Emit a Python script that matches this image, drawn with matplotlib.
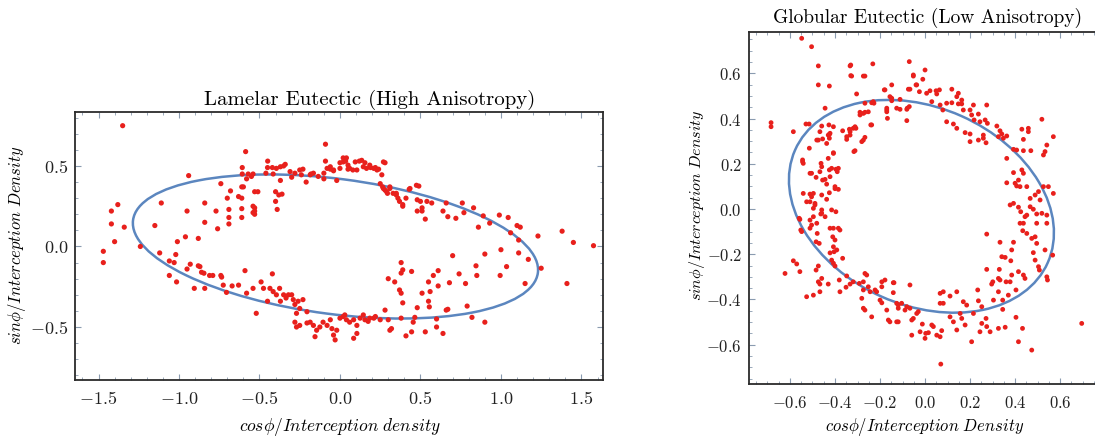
import numpy as np
import matplotlib
matplotlib.use("Agg")
import matplotlib.pyplot as plt
from matplotlib.patches import Ellipse
from matplotlib.ticker import MultipleLocator, FixedLocator, FixedFormatter

plt.rcParams['mathtext.fontset'] = 'cm'

# ---------------- data: Lamelar eutectic ----------------
lam_points = [
    (-1.35, 0.75), (-0.586, 0.589), (-0.607, 0.49), (-0.607, 0.45), (-0.449, 0.53), (-0.45, 0.49),
    (-0.42, 0.49), (-0.37, 0.495), (-0.35, 0.50), (-0.34, 0.51), (-0.94, 0.44), (-0.74, 0.39),
    (-0.68, 0.345), (-0.70, 0.30), (-0.61, 0.37), (-0.61, 0.30), (-0.57, 0.45), (-0.54, 0.45),
    (-0.51, 0.34), (-0.40, 0.34), (-0.38, 0.32), (-0.40, 0.28), (-0.39, 0.23), (-0.53, 0.24),
    (-0.53, 0.22), (-0.53, 0.20), (-0.61, 0.18), (-0.69, 0.23), (-0.69, 0.18), (-0.69, 0.14),
    (-0.84, 0.27), (-0.84, 0.15), (-0.77, 0.22), (-0.95, 0.22), (-0.76, 0.11), (-1.11, 0.27),
    (-1.15, 0.13), (-0.96, 0.06), (-0.88, 0.05), (-1.01, 0.03), (-1.38, 0.26), (-1.42, 0.22),
    (-1.42, 0.14), (-1.34, 0.12), (-1.40, 0.03), (-1.47, -0.03), (-1.47, -0.10), (-1.24, 0.0),
    (-1.12, -0.04), (-1.02, -0.05), (-1.06, -0.09), (-1.03, -0.10), (-0.93, -0.11), (-0.88, -0.12),
    (-0.95, -0.14), (-0.86, -0.16), (-0.81, -0.18), (-0.74, -0.18), (-0.59, -0.15), (-0.42, -0.17),
    (-1.06, -0.18),
    (-0.58, 0.42), (-0.55, 0.435), (-0.60, 0.37), (-0.63, 0.31), (-0.53, 0.34), (-0.61, 0.235),
    (-0.54, 0.25), (-0.54, 0.21), (-0.46, 0.455), (-0.415, 0.45), (-0.395, 0.485), (-0.37, 0.41),
    (-0.36, 0.325), (-0.31, 0.465), (-0.30, 0.43), (-0.28, 0.455), (-0.25, 0.475), (-0.24, 0.445),
    (-0.21, 0.40), (-0.185, 0.445), (-0.165, 0.455), (-0.135, 0.435), (-0.09, 0.635), (-0.09, 0.53),
    (-0.08, 0.485), (-0.06, 0.495), (-0.04, 0.47), (-0.02, 0.41), (0.0, 0.485), (0.02, 0.525),
    (0.04, 0.55), (0.05, 0.505), (0.06, 0.485), (0.095, 0.525), (0.105, 0.475), (0.135, 0.535),
    (0.145, 0.495), (0.165, 0.485), (0.185, 0.505), (0.21, 0.485), (0.23, 0.475), (0.27, 0.525),
    (0.26, 0.445), (0.25, 0.39), (0.27, 0.36), (0.29, 0.34), (0.31, 0.37), (0.33, 0.33),
    (0.35, 0.32), (0.37, 0.28), (0.39, 0.25), (0.41, 0.30), (0.435, 0.36), (0.475, 0.38),
    (0.50, 0.28), (0.51, 0.24), (0.54, 0.28),
    (0.02, 0.55), (0.035, 0.53), (0.0, 0.52), (0.12, 0.53), (0.155, 0.52), (0.19, 0.49),
    (0.22, 0.49), (0.28, 0.52), (-0.23, 0.48), (-0.18, 0.45), (-0.10, 0.455), (-0.06, 0.48),
    (-0.04, 0.475), (0.05, 0.48), (0.08, 0.475), (0.24, 0.48), (-0.10, 0.42),
    (0.265, 0.37), (0.28, 0.35), (0.295, 0.33), (0.31, 0.36), (0.35, 0.33), (0.36, 0.30),
    (0.39, 0.26), (0.43, 0.355), (0.49, 0.375), (0.48, 0.29), (0.48, 0.22), (0.51, 0.22),
    (0.53, 0.17), (0.57, 0.27), (0.64, 0.22), (0.66, 0.27), (0.67, 0.185), (0.72, 0.175),
    (0.76, 0.27), (0.77, 0.21), (0.83, 0.24), (0.86, 0.12), (0.89, 0.19), (0.93, 0.145),
    (0.99, 0.195), (1.045, 0.18), (1.06, 0.085), (1.10, 0.13), (1.12, 0.12), (1.11, 0.04),
    (1.17, -0.08), (1.23, 0.065), (1.25, -0.135), (1.38, 0.095), (1.45, 0.025), (1.575, 0.005),
    (0.70, -0.057), (0.90, -0.047), (1.0, -0.02), (1.11, -0.04), (0.845, -0.12), (0.995, -0.18),
    (0.38, -0.10), (0.39, -0.145), (0.445, -0.155), (0.38, -0.165), (0.61, -0.15), (0.58, -0.18),
    (0.30, -0.20), (0.34, -0.22), (0.37, -0.27), (0.38, -0.29), (0.39, -0.35), (0.48, -0.38),
    (0.51, -0.29), (0.55, -0.22), (0.56, -0.28), (0.61, -0.245), (0.55, -0.34), (0.555, -0.375),
    (0.68, -0.225), (0.74, -0.17), (0.78, -0.23), (0.85, -0.18), (0.79, -0.37), (0.67, -0.39),
    (0.82, -0.44), (0.90, -0.47), (1.035, -0.125), (1.15, -0.23), (1.41, -0.23), (0.60, -0.45),
    (0.60, -0.50), (0.64, -0.54), (0.53, -0.53), (0.445, -0.53), (0.455, -0.47), (0.41, -0.555),
    (0.31, -0.52), (0.38, -0.445), (0.465, -0.44), (0.66, -0.395),
    (-1.015, -0.22), (-0.905, -0.26), (-0.84, -0.26), (-0.79, -0.18), (-0.705, -0.285),
    (-0.67, -0.245), (-0.63, -0.24), (-0.58, -0.29), (-0.54, -0.26), (-0.52, -0.415), (-0.45, -0.34),
    (-0.87, -0.125), (-0.845, -0.166), (-0.735, -0.19), (-0.725, -0.24), (-0.49, -0.22),
    (-0.475, -0.26), (-0.435, -0.26), (-0.415, -0.28), (-0.395, -0.30), (-0.375, -0.26),
    (-0.37, -0.34), (-0.35, -0.30), (-0.335, -0.32), (-0.32, -0.30), (-0.30, -0.30), (-0.29, -0.33),
    (-0.28, -0.36), (-0.27, -0.415), (-0.26, -0.34), (-0.25, -0.385), (-0.23, -0.33), (-0.205, -0.405),
    (-0.28, -0.47), (-0.27, -0.50), (-0.25, -0.49), (-0.205, -0.475), (-0.185, -0.47), (-0.165, -0.49),
    (-0.145, -0.52), (-0.125, -0.50), (-0.105, -0.47), (-0.08, -0.49), (-0.06, -0.455), (-0.05, -0.51),
    (-0.02, -0.52), (-0.04, -0.55), (0.0, -0.445), (0.02, -0.435), (0.04, -0.455), (0.06, -0.47),
    (0.085, -0.455), (0.105, -0.49), (0.125, -0.445), (0.155, -0.455), (0.175, -0.465), (0.21, -0.445),
    (0.25, -0.455), (0.28, -0.395), (0.30, -0.455), (0.32, -0.51), (-0.155, -0.56), (-0.03, -0.58),
    (0.085, -0.57), (0.105, -0.54), (0.03, -0.425), (0.145, -0.425), (0.22, -0.435), (0.185, -0.445),
]
lam_x = [p[0] for p in lam_points]
lam_y = [p[1] for p in lam_points]

# fitted ellipse (center x, center y, semi-major, semi-minor, angle deg)
lam_ellipse = (-0.028, 0.0, 1.268, 0.420, -7.4)

# ---------------- data: Globular eutectic ----------------
glob_points = [
    (-0.548, 0.755), (-0.504, 0.718), (-0.474, 0.633), (-0.684, 0.382), (-0.684, 0.364), (-0.585, 0.342),
    (-0.529, 0.376), (-0.515, 0.376), (-0.474, 0.549), (-0.425, 0.544), (-0.444, 0.446), (-0.514, 0.269),
    (-0.544, 0.209), (-0.541, 0.202), (-0.511, 0.158), (-0.481, 0.305), (-0.467, 0.342), (-0.459, 0.367),
    (-0.467, 0.165), (-0.462, 0.202), (-0.444, 0.131), (-0.43, 0.224), (-0.425, 0.173), (-0.407, 0.246),
    (-0.407, 0.364), (-0.425, 0.33), (-0.396, 0.176), (-0.385, 0.087), (-0.40, 0.09), (-0.415, 0.18),
    (-0.415, -0.004), (-0.541, 0.069), (-0.526, 0.032), (-0.511, 0.066), (-0.489, 0.025), (-0.459, -0.004),
    (-0.444, -0.034), (-0.496, -0.034), (-0.33, 0.637), (-0.326, 0.588), (-0.274, 0.588), (-0.232, 0.642),
    (-0.304, 0.509), (-0.289, 0.416), (-0.333, 0.342), (-0.319, 0.357), (-0.348, 0.32), (-0.311, 0.364),
    (-0.274, 0.305), (-0.274, 0.423), (-0.252, 0.43), (-0.241, 0.372), (-0.316, 0.254), (-0.23, 0.475),
    (-0.181, 0.527), (-0.148, 0.549), (-0.17, 0.438), (-0.167, 0.401), (-0.148, 0.49), (-0.126, 0.446),
    (-0.544, 0.217), (-0.459, 0.187), (-0.504, 0.158), (-0.484, 0.14), (-0.385, 0.18), (-0.39, 0.165),
    (-0.422, 0.143), (-0.455, 0.128), (-0.437, 0.11), (-0.40, 0.099), (-0.425, 0.072), (-0.459, 0.062),
    (-0.496, 0.069), (-0.504, 0.054), (-0.511, 0.032), (-0.489, 0.018), (-0.496, 0.003), (-0.463, -0.022),
    (-0.437, 0.043), (-0.396, -0.012), (-0.511, -0.049), (-0.556, -0.046), (-0.481, -0.063), (-0.422, -0.085),
    (-0.385, -0.085), (-0.427, 0.372), (-0.422, 0.335), (-0.43, 0.327), (-0.425, 0.313), (-0.474, 0.305),
    (-0.455, 0.31), (-0.437, 0.29), (-0.407, 0.249), (-0.366, 0.346), (-0.336, 0.353), (-0.307, 0.357),
    (-0.333, 0.327), (-0.348, 0.308), (-0.267, 0.317), (-0.281, 0.298), (-0.311, 0.258), (-0.237, 0.372),
    (-0.289, 0.428), (-0.267, 0.428), (-0.267, 0.468), (-0.237, 0.47), (-0.227, 0.468), (-0.178, 0.527),
    (-0.156, 0.497), (-0.148, 0.479), (-0.17, 0.446), (-0.17, 0.43), (-0.111, 0.441), (-0.081, 0.441),
    (-0.07, 0.453), (-0.081, 0.391), (-0.111, 0.485), (-0.067, 0.53), (-0.037, 0.549), (-0.052, 0.593),
    (-0.07, 0.652), (-0.333, 0.633), (-0.33, 0.59), (-0.267, 0.588), (-0.548, -0.1), (-0.511, -0.085),
    (0.0, 0.615), (-0.052, 0.588), (-0.01, 0.574), (-0.04, 0.549), (-0.074, 0.53), (-0.025, 0.519),
    (0.007, 0.512), (0.022, 0.523), (0.049, 0.523), (0.064, 0.527), (0.052, 0.509), (0.119, 0.53),
    (0.148, 0.512), (0.141, 0.497), (0.163, 0.482), (-0.079, 0.446), (0.03, 0.475), (0.067, 0.46),
    (0.079, 0.438), (0.096, 0.468), (0.119, 0.47), (0.148, 0.465), (0.163, 0.465), (0.17, 0.438),
    (0.2, 0.438), (0.207, 0.416), (0.215, 0.46), (0.237, 0.42), (0.218, 0.394), (0.244, 0.386),
    (0.274, 0.46), (0.267, 0.394), (0.277, 0.379), (0.096, 0.386), (0.126, 0.376), (0.141, 0.357),
    (0.178, 0.338), (0.2, 0.332), (0.2, 0.298), (0.237, 0.305), (0.259, 0.313), (0.271, 0.293),
    (0.259, 0.327), (0.319, 0.367), (0.333, 0.346), (0.341, 0.332), (0.326, 0.32), (0.348, 0.313),
    (0.363, 0.323), (0.43, 0.353), (0.459, 0.357), (0.459, 0.342), (0.519, 0.397), (0.57, 0.32),
    (0.437, 0.308), (0.541, 0.283), (0.533, 0.254), (0.526, 0.239), (0.363, 0.224), (0.393, 0.264),
    (0.407, 0.261), (0.437, 0.258), (0.47, 0.258), (0.43, 0.173), (0.437, 0.158), (0.393, 0.161),
    (0.415, 0.128), (0.4, 0.114), (0.407, 0.102), (0.422, 0.099), (0.363, 0.116), (0.452, 0.099),
    (0.467, 0.047), (0.489, 0.062), (0.504, 0.077), (0.511, 0.04), (0.526, 0.099), (0.548, 0.099),
    (0.378, 0.018), (0.393, 0.025), (0.415, 0.008), (0.467, 0.01), (0.481, -0.001), (0.452, -0.027),
    (0.444, -0.034), (0.422, -0.063), (0.496, -0.063), (0.541, -0.063), (0.519, -0.019), (0.541, -0.027),
    (0.57, 0.069),
    (-0.559, -0.041), (-0.552, -0.093), (-0.504, -0.071), (-0.479, -0.108), (-0.484, -0.145), (-0.47, -0.152),
    (-0.459, -0.019), (-0.407, -0.085), (-0.41, -0.123), (-0.4, -0.137), (-0.378, -0.093), (-0.407, -0.167),
    (-0.404, -0.189), (-0.415, -0.226), (-0.407, -0.24), (-0.4, -0.252), (-0.366, -0.218), (-0.422, -0.194),
    (-0.585, -0.229), (-0.57, -0.243), (-0.556, -0.277), (-0.622, -0.285), (-0.526, -0.388), (-0.496, -0.381),
    (-0.484, -0.27), (-0.474, -0.252), (-0.474, -0.322), (-0.467, -0.332), (-0.459, -0.307), (-0.467, -0.366),
    (-0.43, -0.332), (-0.378, -0.366), (-0.381, -0.314), (-0.348, -0.296), (-0.351, -0.346), (-0.333, -0.332),
    (-0.319, -0.322), (-0.292, -0.329), (-0.274, -0.322), (-0.267, -0.285), (-0.259, -0.292), (-0.252, -0.344),
    (-0.244, -0.366), (-0.274, -0.358), (-0.281, -0.395), (-0.274, -0.439), (-0.267, -0.447), (-0.237, -0.477),
    (-0.215, -0.366), (-0.192, -0.322), (-0.192, -0.344), (-0.178, -0.314), (-0.141, -0.326), (-0.192, -0.415),
    (-0.17, -0.447), (-0.163, -0.491), (-0.156, -0.499), (-0.141, -0.37), (-0.126, -0.417), (-0.119, -0.439),
    (-0.119, -0.499), (-0.2, -0.403), (-0.222, -0.358), (-0.392, -0.181),
    (0.274, -0.111), (0.333, -0.147), (0.393, -0.147), (0.385, -0.181), (0.341, -0.211), (0.356, -0.214),
    (0.381, -0.229), (0.274, -0.267), (0.33, -0.267), (0.301, -0.322), (0.296, -0.332), (0.326, -0.307),
    (0.333, -0.314), (0.36, -0.322), (0.378, -0.322), (0.385, -0.292), (0.404, -0.358), (0.326, -0.366),
    (0.37, -0.381), (0.437, -0.292), (0.444, -0.307), (0.415, -0.277), (0.425, -0.012), (0.496, -0.022),
    (0.437, -0.063), (0.434, -0.096), (0.452, -0.108), (0.474, -0.13), (0.489, -0.123), (0.496, -0.152),
    (0.481, -0.193), (0.489, -0.226), (0.504, -0.255), (0.508, -0.27), (0.533, -0.181), (0.567, -0.204),
    (0.541, -0.3), (0.544, -0.314), (0.234, -0.358), (0.237, -0.406), (0.252, -0.432), (0.17, -0.41),
    (0.207, -0.587), (0.244, -0.543), (0.252, -0.506), (0.271, -0.484), (0.274, -0.52), (0.289, -0.543),
    (0.326, -0.528), (0.356, -0.523), (0.404, -0.479), (0.433, -0.528), (0.415, -0.587), (0.474, -0.624),
    (0.345, -0.444), (0.304, -0.403), (0.345, -0.403), (-0.138, -0.326), (-0.067, -0.336), (-0.119, -0.425),
    (-0.104, -0.417), (-0.081, -0.432), (-0.067, -0.439), (-0.037, -0.462), (-0.052, -0.484), (-0.03, -0.454),
    (-0.059, -0.558), (-0.012, -0.509), (-0.022, -0.543), (0.003, -0.55), (0.0, -0.572), (0.015, -0.547),
    (0.03, -0.513), (0.037, -0.52), (0.052, -0.558), (0.067, -0.565), (0.074, -0.538), (0.067, -0.373),
    (0.081, -0.366), (0.067, -0.417), (0.081, -0.417), (0.111, -0.385), (0.141, -0.366), (0.111, -0.477),
    (0.126, -0.499), (0.156, -0.462), (0.163, -0.484), (0.141, -0.535), (0.178, -0.513), (0.185, -0.425),
    (0.215, -0.462), (0.07, -0.686), (0.696, -0.506), (-0.126, -0.499), (-0.089, -0.447), (-0.059, -0.491),
]
glob_x = [p[0] for p in glob_points]
glob_y = [p[1] for p in glob_points]

glob_ellipse = (-0.016, 0.012, 0.614, 0.437, -23.9)

# ---------------- styling ----------------
RED = '#e8201c'
BLUE = '#5b86bf'
FRAME = '#2b2b2b'
TICK = '#8a9bb0'

fig = plt.figure(figsize=(10.95, 4.37), dpi=100)


def style_axes(ax, xmaj, xmin, ymaj, ymin, xlabels, ylabels, fs, ypad):
    for s in ax.spines.values():
        s.set_color(FRAME)
        s.set_linewidth(1.3)
    ax.xaxis.set_major_locator(FixedLocator(xmaj))
    ax.yaxis.set_major_locator(FixedLocator(ymaj))
    ax.xaxis.set_major_formatter(FixedFormatter(xlabels))
    ax.yaxis.set_major_formatter(FixedFormatter(ylabels))
    ax.xaxis.set_minor_locator(MultipleLocator(xmin))
    ax.yaxis.set_minor_locator(MultipleLocator(ymin))
    ax.tick_params(which='both', direction='in', top=True, right=True, color=TICK,
                   labelsize=fs, labelcolor='#222222')
    ax.tick_params(which='major', length=4, width=0.8)
    ax.tick_params(axis='x', which='major', pad=7)
    ax.tick_params(axis='y', which='major', pad=ypad)
    ax.tick_params(which='minor', length=2, width=0.6)


def fmt(v, nd):
    return '$' + f"{v:.{nd}f}" + '$'


# Left panel
ax1 = fig.add_axes([75 / 1095, 1 - 380 / 437, 528 / 1095, 268 / 437])
ax1.set_xlim(-1.646, 1.634)
ax1.set_ylim(-0.829, 0.835)
cx, cy, a, b, ang = lam_ellipse
ax1.add_patch(Ellipse((cx, cy), 2 * a, 2 * b, angle=ang, fill=False, color=BLUE, lw=1.8, zorder=2))
ax1.scatter(lam_x, lam_y, s=14, c=RED, edgecolors='none', zorder=3)
lx = [-1.5, -1.0, -0.5, 0.0, 0.5, 1.0, 1.5]
ly = [-0.5, 0.0, 0.5]
style_axes(ax1, lx, 0.1, ly, 0.1, [fmt(v, 1) for v in lx], [fmt(v, 1) for v in ly], 13, 5)
fig.text(370 / 1095, 1 - 100 / 437, 'Lamelar Eutectic (High Anisotropy)', family='cmr10',
         fontsize=15, ha='center', va='center')
fig.text(340 / 1095, 1 - 427 / 437, r'$cos\phi/Interception\ density$', fontsize=12.5,
         ha='center', va='center')
fig.text(17 / 1095, 1 - 245 / 437, r'$sin\phi/Interception\ Density$', fontsize=12,
         ha='center', va='center', rotation=90)

# Right panel
ax2 = fig.add_axes([749 / 1095, 1 - 384 / 437, 355 / 1095, 352 / 437])
ax2.set_xlim(-0.782, 0.795)
ax2.set_ylim(-0.774, 0.783)
cx, cy, a, b, ang = glob_ellipse
ax2.add_patch(Ellipse((cx, cy), 2 * a, 2 * b, angle=ang, fill=False, color=BLUE, lw=1.8, zorder=2))
ax2.scatter(glob_x, glob_y, s=12, c=RED, edgecolors='none', zorder=3)
gx = [-0.6, -0.4, -0.2, 0.0, 0.2, 0.4, 0.6]
gy = [-0.6, -0.4, -0.2, 0.0, 0.2, 0.4, 0.6]
style_axes(ax2, gx, 0.05, gy, 0.05, [fmt(v, 1) for v in gx], [fmt(v, 1) for v in gy], 12, 5)
fig.text(928 / 1095, 1 - 18 / 437, 'Globular Eutectic (Low Anisotropy)', family='cmr10',
         fontsize=14, ha='center', va='center')
fig.text(925 / 1095, 1 - 427 / 437, r'$cos\phi/Interception\ Density$', fontsize=12,
         ha='center', va='center')
fig.text(697 / 1095, 1 - 205 / 437, r'$sin\phi/Interception\ Density$', fontsize=11.5,
         ha='center', va='center', rotation=90)

fig.savefig('out.png', dpi=100)
